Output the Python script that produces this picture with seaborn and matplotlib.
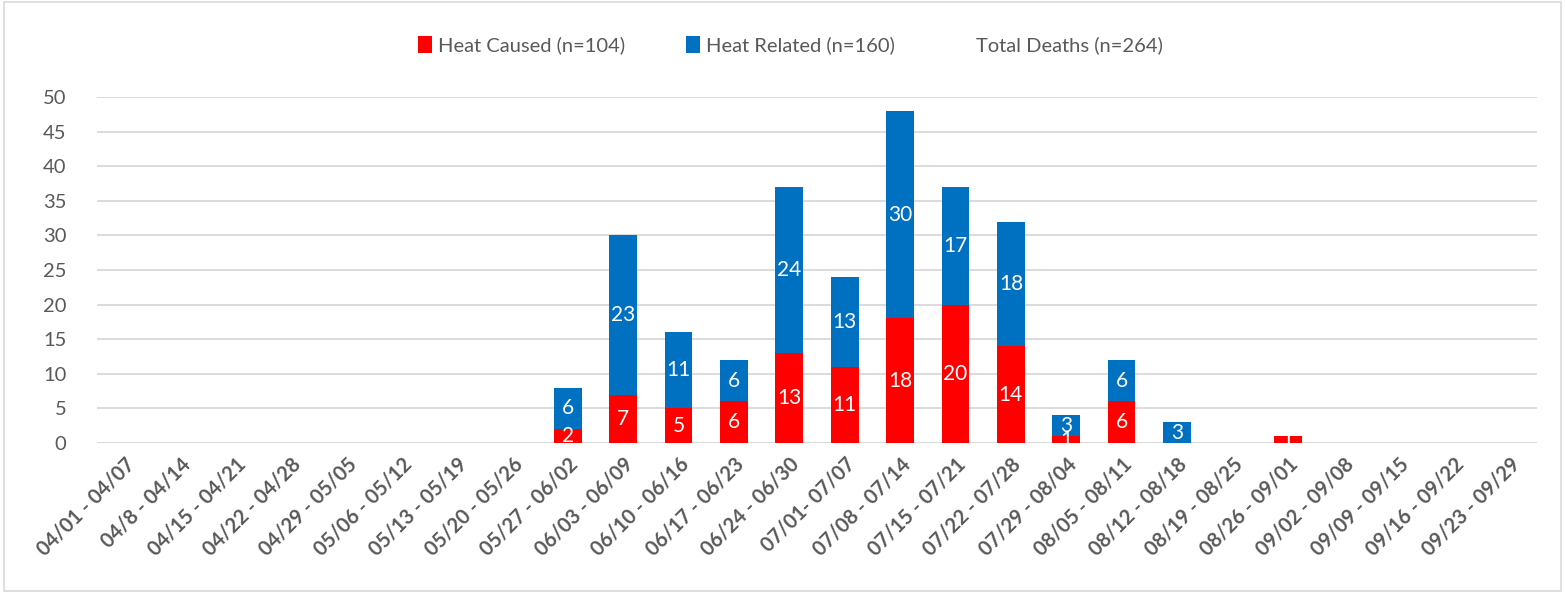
import matplotlib
matplotlib.use("Agg")
import matplotlib.pyplot as plt
import seaborn as sns
import pandas as pd
from matplotlib.patches import Patch, Rectangle

weeks = ["04/01 - 04/07", "04/8 - 04/14", "04/15 - 04/21", "04/22 - 04/28", "04/29 - 05/05",
         "05/06 - 05/12", "05/13 - 05/19", "05/20 - 05/26", "05/27 - 06/02", "06/03 - 06/09",
         "06/10 - 06/16", "06/17 - 06/23", "06/24 - 06/30", "07/01- 07/07", "07/08 - 07/14",
         "07/15 - 07/21", "07/22 - 07/28", "07/29 - 08/04", "08/05 - 08/11", "08/12 - 08/18",
         "08/19 - 08/25", "08/26 - 09/01", "09/02 - 09/08", "09/09 - 09/15", "09/16 - 09/22",
         "09/23 - 09/29"]
heat_caused = [0, 0, 0, 0, 0, 0, 0, 0, 2, 7, 5, 6, 13, 11, 18, 20, 14, 1, 6, 0, 0, 1, 0, 0, 0, 0]
heat_related = [0, 0, 0, 0, 0, 0, 0, 0, 6, 23, 11, 6, 24, 13, 30, 17, 18, 3, 6, 3, 0, 0, 0, 0, 0, 0]
legend_labels = ["Heat Caused (n=104)", "Heat Related (n=160)", "Total Deaths (n=264)"]

RED = "#FF0000"
BLUE = "#0070C0"
GRAY = "#595959"

df = pd.DataFrame({"week": weeks, "caused": heat_caused, "related": heat_related})
df["total"] = df["caused"] + df["related"]

sns.set_style("white")
plt.rcParams["font.family"] = ["Lato", "DejaVu Sans"]

fig = plt.figure(figsize=(15.65, 5.93), dpi=100)
ax = fig.add_axes([97 / 1565, 1 - 443 / 593, 1440 / 1565, 346 / 593])

sns.barplot(data=df, x="week", y="total", color=BLUE, width=0.5, ax=ax,
            saturation=1, linewidth=0, zorder=3)
sns.barplot(data=df, x="week", y="caused", color=RED, width=0.5, ax=ax,
            saturation=1, linewidth=0, zorder=3)

for i, (c, r) in enumerate(zip(heat_caused, heat_related)):
    if c > 0:
        ax.text(i, c / 2, str(c), ha="center", va="center", color="white", fontsize=15, zorder=5)
    if r > 0:
        ax.text(i, c + r / 2, str(r), ha="center", va="center", color="white", fontsize=15, zorder=5)

ax.set_ylim(0, 50)
ax.set_xlim(-0.5, len(weeks) - 0.5)
ax.set_yticks(range(0, 51, 5))
ax.yaxis.grid(True, color="#D9D9D9", linewidth=1.3, zorder=0)
ax.set_axisbelow(True)
for s in ax.spines.values():
    s.set_visible(False)
ax.axhline(0, color="#D9D9D9", linewidth=2, zorder=2)
ax.set_xlabel("")
ax.set_ylabel("")
ax.tick_params(axis="y", labelsize=14.5, labelcolor=GRAY, length=0, pad=22)
ax.tick_params(axis="x", labelsize=14.5, labelcolor=GRAY, length=0, pad=8)
ax.set_xticks(range(len(weeks)))
ax.set_xticklabels(weeks, rotation=45, ha="right", rotation_mode="anchor", fontweight="bold")

handles = [Patch(facecolor=RED, edgecolor="none"),
           Patch(facecolor=BLUE, edgecolor="none"),
           Patch(facecolor="none", edgecolor="none")]
leg = fig.legend(handles, legend_labels, loc="center", bbox_to_anchor=(0.505, 1 - 45 / 593),
                 ncol=3, frameon=False, fontsize=14.5, handlelength=0.7, handleheight=0.9,
                 handletextpad=0.3, columnspacing=3.0)
for t in leg.get_texts():
    t.set_color(GRAY)

fig.patches.append(Rectangle((4 / 1565, 2 / 593), 1 - 8 / 1565, 1 - 4 / 593,
                             transform=fig.transFigure, fill=False,
                             edgecolor="#D9D9D9", linewidth=1.2))

fig.savefig("out.png", dpi=100)
